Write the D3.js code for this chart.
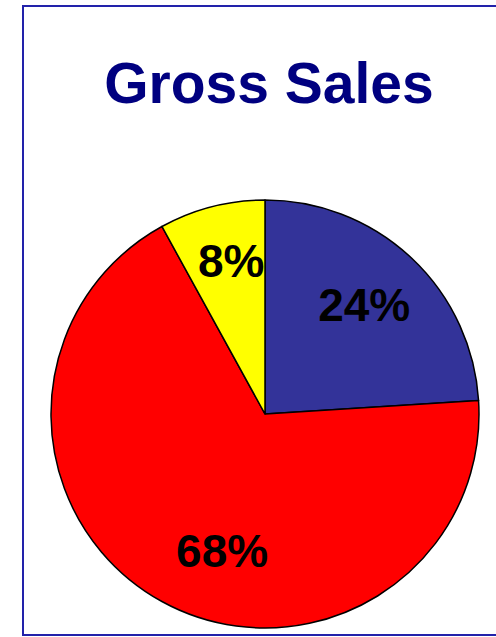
<!DOCTYPE html>
<html>
<head>
<meta charset="utf-8">
<script src="https://cdn.jsdelivr.net/npm/d3@7"></script>
<style>
  html, body { margin: 0; padding: 0; background: #fff; overflow: hidden; }
  svg { display: block; font-family: "Liberation Sans", Arial, sans-serif; }
</style>
</head>
<body>
<div id="chart"></div>
<script>
// chart data
const categories = ["A", "B", "C"];
const sales = [24, 68, 8];
const pctLabels = ["24%", "68%", "8%"];
const sliceColors = ["#333399", "#ff0000", "#ffff00"];

const width = 496;
const height = 637;
const cx = 265, cy = 414, radius = 214;

// label placement (angle shift in degrees, radius as fraction of pie radius)
const labelShift = [-1, -11.4, 2];
const labelRadius = [0.69, 0.67, 0.737];

const svg = d3.select("#chart")
    .append("svg")
    .attr("width", width)
    .attr("height", height);

// frame around the chart area
svg.append("rect")
    .attr("x", 23)
    .attr("y", 6)
    .attr("width", 520)
    .attr("height", 629)
    .attr("fill", "none")
    .attr("stroke", "#2222aa")
    .attr("stroke-width", 2);

svg.append("text")
    .attr("x", 269)
    .attr("y", 103)
    .attr("text-anchor", "middle")
    .attr("font-size", 57)
    .attr("font-weight", "bold")
    .attr("fill", "#000080")
    .text("Gross Sales");

const pie = d3.pie().sort(null).value(d => d);
const arcs = pie(sales);

const arc = d3.arc().innerRadius(0).outerRadius(radius);

const g = svg.append("g")
    .attr("transform", `translate(${cx}, ${cy})`);

g.selectAll(".slice")
    .data(arcs)
    .enter()
    .append("path")
    .attr("class", "slice")
    .attr("d", arc)
    .attr("fill", (d, i) => sliceColors[i])
    .attr("stroke", "#000")
    .attr("stroke-width", 1.5)
    .attr("stroke-linejoin", "round");

g.selectAll(".lbl")
    .data(arcs)
    .enter()
    .append("text")
    .attr("class", "lbl")
    .attr("x", (d, i) => {
        const a = (d.startAngle + d.endAngle) / 2 + labelShift[i] * Math.PI / 180;
        return Math.sin(a) * radius * labelRadius[i];
    })
    .attr("y", (d, i) => {
        const a = (d.startAngle + d.endAngle) / 2 + labelShift[i] * Math.PI / 180;
        return -Math.cos(a) * radius * labelRadius[i];
    })
    .attr("dy", "0.36em")
    .attr("text-anchor", "middle")
    .attr("font-size", 46)
    .attr("font-weight", "bold")
    .attr("fill", "#000")
    .text((d, i) => pctLabels[i]);
</script>
</body>
</html>
